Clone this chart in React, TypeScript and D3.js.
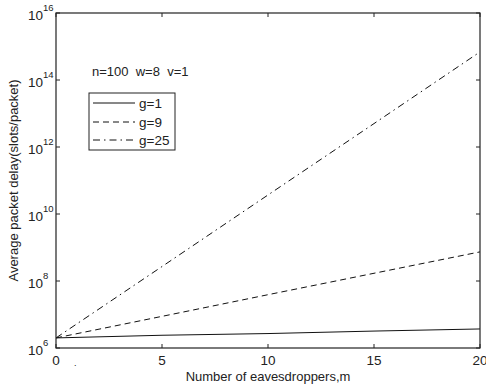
import React from "react";
import * as d3 from "d3";

const mValues = [0, 5, 10, 15, 20];
const g1 = [2.0e6, 2.4e6, 2.7e6, 3.2e6, 3.7e6];
const g9 = [2.0e6, 8.8e6, 3.9e7, 1.7e8, 7.4e8];
const g25 = [2.0e6, 2.7e8, 3.7e10, 5.0e12, 6.9e14];
const xTicks = [0, 5, 10, 15, 20];
const yExps = [6, 8, 10, 12, 14, 16];
const seriesNames = ["g=1", "g=9", "g=25"];
const dashes = ["", "6,4", "7,4,1.5,4"];

export default function App() {
  const W = 486, H = 386;
  const L = 56, R = 480, T = 13, B = 348;
  const x = d3.scaleLinear().domain([0, 20]).range([L, R]);
  const y = d3.scaleLog().domain([1e6, 1e16]).range([B, T]);
  const all = [g1, g9, g25];
  const line = d3.line<number>().x((_, i) => x(mValues[i])).y((d) => y(d));
  const font = "Arial, 'Liberation Sans', sans-serif";
  const legY = [103, 122, 140];
  return (
    <svg width={W} height={H} style={{ position: "absolute", left: 0, top: 0 }} fontFamily={font}>
      <rect x={0} y={0} width={W} height={H} fill="#fff" />
      {all.map((s, i) => (
        <path key={i} d={line(s) || ""} fill="none" stroke="#111" strokeWidth={1} strokeDasharray={dashes[i]} />
      ))}
      <rect x={L} y={T} width={R - L} height={B - T} fill="none" stroke="#222" strokeWidth={1.2} />
      {xTicks.map((t) => (
        <g key={t}>
          <line x1={x(t)} x2={x(t)} y1={B} y2={B - 4} stroke="#222" />
          <line x1={x(t)} x2={x(t)} y1={T} y2={T + 4} stroke="#222" />
          <text x={x(t)} y={365} fontSize={13.5} textAnchor="middle" fill="#222">{t}</text>
        </g>
      ))}
      {yExps.map((e) => (
        <g key={e}>
          <line x1={L} x2={L + 4} y1={y(Math.pow(10, e))} y2={y(Math.pow(10, e))} stroke="#222" />
          <line x1={R} x2={R - 4} y1={y(Math.pow(10, e))} y2={y(Math.pow(10, e))} stroke="#222" />
          <text x={43} y={y(Math.pow(10, e)) + 6.5} fontSize={13.5} textAnchor="end" fill="#222">10</text>
          <text x={43} y={y(Math.pow(10, e)) - 2} fontSize={9.5} textAnchor="start" fill="#222">{e}</text>
        </g>
      ))}
      <text x={268} y={381} fontSize={13} textAnchor="middle" fill="#222">Number of eavesdroppers,m</text>
      <text transform={`translate(18,${(T + B) / 2}) rotate(-90)`} fontSize={13} textAnchor="middle" fill="#222">
        Average packet delay(slots/packet)
      </text>
      <text x={74} y={366} fontSize={9} fill="#222">.</text>
      <text x={92} y={76} fontSize={13} fill="#222" xmlSpace="preserve">n=100  w=8  v=1</text>
      <rect x={89} y={93} width={86} height={57} fill="#fff" stroke="#222" strokeWidth={1} />
      {seriesNames.map((n, i) => (
        <g key={n}>
          <line x1={93} x2={135} y1={legY[i]} y2={legY[i]} stroke="#111" strokeDasharray={dashes[i]} />
          <text x={139} y={legY[i] + 5} fontSize={13.5} fill="#222">{n}</text>
        </g>
      ))}
    </svg>
  );
}
